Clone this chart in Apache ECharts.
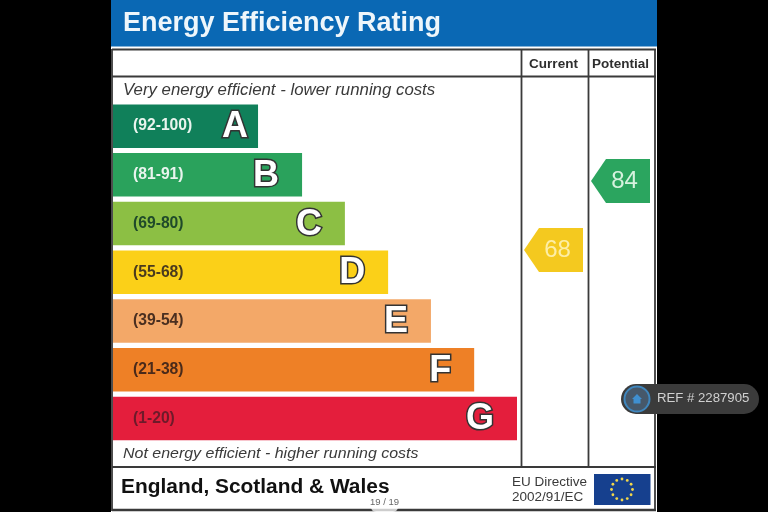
<!DOCTYPE html>
<html><head><meta charset="utf-8">
<style>html,body{margin:0;padding:0;background:#000}#c{width:768px;height:512px}</style>
<script src="https://cdn.jsdelivr.net/npm/echarts@6/dist/echarts.min.js"></script>
</head><body><div id="c"></div>
<script>
const titleText = 'Energy Efficiency Rating';
const bands = ['A','B','C','D','E','F','G'];
const ranges = ['(92-100)','(81-91)','(69-80)','(55-68)','(39-54)','(21-38)','(1-20)'];
const rangeColors = ['#e9f4ee','#e9f4ee','#1f4a2a','#4a3a1e','#4a2f20','#4a2a1a','#6e1a2a'];
const barLengths = [35.9,46.8,57.4,68.1,78.7,89.4,100];
const barColors = ['#10805a','#2aa25c','#8cbf44','#fbd018','#f3a868','#ee8026','#e41e3c'];
const columns = ['Current','Potential'];
const ratings = [68,84];
const ratingColors = ['#f4c91f','#2ba55f'];
const ratingTextColors = ['#fdeea6','#d6f2de'];
const FONT = '"Liberation Sans", Arial, sans-serif';
const LINE = '#3a3a3a';

function vline(x,y1,y2,w){return {type:'line',shape:{x1:x,y1:y1,x2:x,y2:y2},style:{stroke:LINE,lineWidth:w||1.8}};}
function hline(y,x1,x2,w){return {type:'line',shape:{x1:x1,y1:y,x2:x2,y2:y},style:{stroke:LINE,lineWidth:w||1.8}};}
function txt(x,y,t,font,fill,extra){return Object.assign({type:'text',x:x,y:y,style:{text:t,font:font,fill:fill,textVerticalAlign:'middle'}},extra||{});}

const elements = [
  {type:'rect',shape:{x:111,y:0,width:546,height:512},style:{fill:'#ffffff'}},
  {type:'rect',shape:{x:111,y:0,width:546,height:46.5},style:{fill:'#0a68b4'}},
  hline(49.5,112,656), hline(76.5,112,656), hline(467,112,656), hline(510,112,656,2.5),
  vline(112,49,511), vline(655,49,511), vline(521.5,49,467), vline(588.5,49,467),
  txt(123,90.5,'Very energy efficient - lower running costs','italic 16px '+FONT,'#3a3a3a',{scaleX:1.05}),
  txt(123,453.5,'Not energy efficient - higher running costs','italic 15.5px '+FONT,'#3a3a3a',{scaleX:1.03}),
  txt(121,487.5,'England, Scotland & Wales','bold 20.9px '+FONT,'#111111'),
  txt(512,482,'EU Directive','13.5px '+FONT,'#3a3a3a'),
  txt(512,497,'2002/91/EC','13.5px '+FONT,'#3a3a3a'),
  {type:'rect',shape:{x:594,y:474,width:56.5,height:31},style:{fill:'#16408e'}},
  {type:'rect',z:50,shape:{x:371,y:496,width:27,height:16,r:5},style:{fill:'rgba(255,255,255,0.75)'}},
  {type:'text',z:51,x:384.5,y:502,style:{text:'19 / 19',font:'9.5px '+FONT,fill:'#666666',textAlign:'center',textVerticalAlign:'middle'}},
  {type:'rect',z:60,shape:{x:621,y:384,width:138,height:30,r:15},style:{fill:'#3b3b3b'}},
  {type:'circle',z:61,shape:{cx:637,cy:399,r:12.5},style:{fill:'#46586a',stroke:'#3f86bd',lineWidth:2}},
  {type:'polygon',z:62,shape:{points:[[637,394],[642,399],[640.5,399],[640.5,403.5],[633.5,403.5],[633.5,399],[632,399]]},style:{fill:'#3f8fd0'}},
  txt(657,398.5,'REF # 2287905','13.2px '+FONT,'#d0d0d0',{z:62})
];
for(let i=0;i<12;i++){
  const a=i/12*2*Math.PI;
  elements.push({type:'circle',shape:{cx:622+Math.cos(a)*10.5,cy:489.5+Math.sin(a)*10.5,r:1.4},style:{fill:'#f2d64a'}});
}

const arrowPath='path://M0,22 L15,0 L59,0 L59,44 L15,44 Z';

const option = {
  backgroundColor:'#000000',
  animation:false,
  textStyle:{fontFamily:FONT},
  title:{text:titleText,left:118,top:5,textStyle:{color:'#eef6fb',fontWeight:'bold',fontSize:27,fontFamily:FONT}},
  graphic:{elements:elements},
  grid:[
    {left:113,top:101.8,width:404,height:341},
    {left:520,top:112,width:134,height:345}
  ],
  xAxis:[
    {gridIndex:0,type:'value',min:0,max:100,show:false},
    {gridIndex:1,type:'category',data:columns,position:'top',
     axisLine:{show:false},axisTick:{show:false},
     axisLabel:{interval:0,margin:41,color:'#2e2e2e',fontWeight:'bold',fontSize:13.5,fontFamily:FONT}}
  ],
  yAxis:[
    {gridIndex:0,type:'category',data:bands,inverse:true,show:false},
    {gridIndex:1,type:'value',min:20,max:100,show:false}
  ],
  series:[
    {type:'bar',xAxisIndex:0,yAxisIndex:0,barWidth:43.5,silent:true,
     data:barLengths.map((v,i)=>({value:v,itemStyle:{color:barColors[i]},
       label:{formatter:ranges[i],color:rangeColors[i]}})),
     label:{show:true,position:'insideLeft',distance:20,fontWeight:'bold',fontSize:15.7,fontFamily:FONT}},
    {type:'bar',xAxisIndex:0,yAxisIndex:0,barWidth:43.5,barGap:'-100%',silent:true,
     data:barLengths.map((v,i)=>({value:v,itemStyle:{color:'transparent'},
       label:{formatter:bands[i],distance:i===0?10:23}})),
     label:{show:true,position:'insideRight',offset:[0,1],color:'#ffffff',fontWeight:'bold',fontSize:36,fontFamily:FONT,
       textBorderColor:'#333333',textBorderWidth:3}},
    {type:'scatter',xAxisIndex:1,yAxisIndex:1,symbol:arrowPath,symbolSize:[59,44],symbolKeepAspect:false,silent:true,
     data:ratings.map((v,i)=>({value:[columns[i],v],itemStyle:{color:ratingColors[i],opacity:1},
       label:{color:ratingTextColors[i]}})),
     label:{show:true,position:'inside',offset:[4,0],fontSize:24,fontFamily:FONT,formatter:p=>String(p.value[1])}}
  ]
};
const chart = echarts.init(document.getElementById('c'),null,{renderer:'canvas'});
chart.setOption(option);
</script></body></html>
